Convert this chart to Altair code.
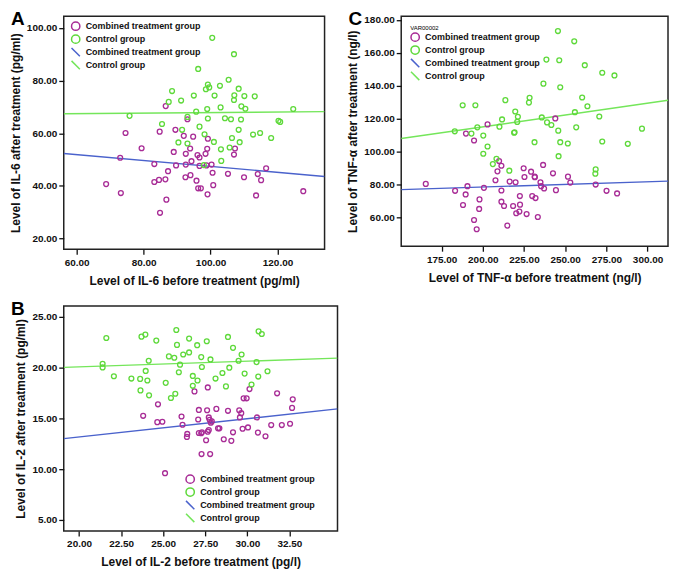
import altair as alt
import pandas as pd

# ---------------- Panel A : IL-6 ----------------
a_comb_x = [86.6, 93.1, 74.6, 84.8, 89.5, 92.0, 94.8, 99.2, 79.4, 93.9, 107.3, 99.0, 89.0, 92.6, 96.1, 98.5, 107.0, 96.7, 73.0, 94.3, 83.2, 92.6, 89.7, 96.7, 100.3, 98.8, 116.6, 87.3, 100.6, 105.2, 114.1, 84.6, 86.5, 83.2, 92.5, 94.0, 110.0, 95.8, 115.1, 100.8, 68.8, 96.3, 97.1, 73.2, 99.1, 113.6, 127.7, 86.8, 84.9]
a_comb_y = [70.3, 65.3, 60.1, 60.6, 61.3, 59.0, 58.7, 57.9, 54.3, 54.2, 54.2, 54.1, 52.9, 52.2, 51.7, 52.2, 51.9, 50.8, 50.7, 49.4, 48.3, 48.1, 47.8, 47.6, 48.1, 47.8, 46.7, 45.6, 45.0, 44.6, 44.5, 42.3, 42.5, 41.5, 43.3, 44.1, 43.3, 42.0, 42.2, 40.3, 40.7, 39.1, 39.1, 37.3, 36.8, 36.4, 38.0, 34.8, 29.8]
a_ctrl_x = [100.5, 107.0, 96.3, 105.4, 99.2, 99.6, 102.8, 98.6, 88.5, 108.4, 107.1, 110.1, 113.2, 101.2, 95.0, 91.2, 87.5, 107.0, 109.2, 110.4, 103.0, 99.0, 95.7, 124.7, 75.8, 93.1, 104.3, 99.2, 106.1, 109.1, 120.3, 120.8, 85.5, 96.7, 91.5, 108.4, 114.8, 98.2, 112.7, 118.1, 106.4, 90.4, 93.1, 101.0, 108.7, 105.7, 103.1, 103.2, 98.0]
a_ctrl_y = [96.2, 90.0, 84.4, 80.3, 78.5, 77.4, 78.0, 76.7, 76.0, 76.9, 74.4, 74.1, 74.0, 74.3, 74.3, 72.4, 71.9, 72.6, 70.2, 69.3, 69.8, 69.2, 68.2, 69.2, 66.6, 66.2, 65.7, 65.6, 65.3, 65.2, 64.7, 64.3, 63.5, 62.5, 61.3, 61.3, 60.1, 59.6, 59.5, 58.2, 58.2, 56.5, 56.1, 56.7, 56.6, 54.6, 53.9, 49.5, 47.9]
a_fit_x = [56.14, 134.06]
a_fit_comb = [52.3, 43.6]
a_fit_ctrl = [67.4, 68.2]

# ---------------- Panel C : TNF-alpha ----------------
c_comb_x = [202.9, 244.0, 189.8, 194.7, 209.9, 211.3, 236.6, 224.8, 242.6, 208.9, 229.3, 231.5, 225.3, 231.6, 251.7, 207.7, 216.3, 219.9, 235.0, 253.1, 165.4, 190.7, 235.4, 237.2, 200.7, 268.5, 183.2, 211.3, 244.4, 275.1, 281.5, 189.6, 222.5, 230.0, 232.0, 198.0, 211.3, 212.9, 218.4, 222.6, 188.0, 197.8, 222.2, 220.3, 226.6, 233.4, 194.7, 214.9, 196.3]
c_comb_y = [116.6, 120.2, 111.0, 106.8, 94.4, 91.5, 92.0, 90.0, 86.9, 88.1, 87.9, 84.9, 84.7, 84.5, 84.9, 82.7, 81.9, 81.5, 81.5, 81.3, 80.5, 79.1, 79.1, 77.7, 78.1, 80.1, 76.3, 76.5, 76.7, 76.3, 74.7, 74.1, 73.1, 73.1, 71.9, 71.1, 69.7, 67.1, 67.1, 67.9, 67.7, 65.3, 63.7, 62.7, 62.2, 60.4, 58.6, 55.2, 53.0]
c_ctrl_x = [245.6, 255.5, 238.6, 246.4, 261.9, 272.5, 279.9, 236.8, 247.0, 260.3, 228.4, 213.7, 228.0, 187.8, 195.5, 263.5, 219.7, 255.9, 235.8, 221.3, 211.7, 270.7, 220.9, 239.0, 241.6, 196.7, 210.1, 256.7, 296.6, 245.8, 183.0, 193.1, 219.3, 219.0, 200.3, 231.4, 247.0, 251.6, 272.5, 288.0, 202.9, 200.3, 208.3, 246.0, 206.1, 216.1, 268.5, 268.3]
c_ctrl_y = [173.2, 167.0, 155.9, 155.5, 152.5, 147.9, 146.3, 141.3, 139.1, 132.9, 132.7, 131.3, 129.8, 128.2, 128.2, 127.6, 124.4, 124.0, 120.8, 121.2, 119.6, 121.4, 118.1, 117.8, 116.2, 114.8, 115.2, 114.8, 114.0, 112.8, 112.4, 111.0, 111.8, 111.5, 109.8, 105.8, 105.8, 105.0, 106.2, 104.8, 103.2, 98.8, 95.7, 97.3, 92.5, 88.5, 89.3, 86.7]
c_fit_x = [150.5, 312.4]
c_fit_comb = [77.0, 82.2]
c_fit_ctrl = [108.0, 131.2]

# ---------------- Panel B : IL-2 ----------------
b_comb_x = [27.65, 26.86, 31.77, 30.13, 29.78, 29.96, 32.70, 24.69, 32.66, 23.81, 27.12, 27.61, 28.16, 28.85, 29.52, 29.64, 26.09, 27.71, 27.76, 27.08, 29.56, 30.57, 24.65, 24.95, 27.83, 27.89, 26.15, 31.42, 32.05, 32.54, 28.26, 28.34, 27.71, 27.12, 30.04, 29.72, 29.15, 26.43, 27.30, 27.65, 30.63, 27.26, 26.41, 31.08, 27.55, 28.60, 29.05, 27.28, 27.79, 25.11]
b_comb_y = [18.03, 17.64, 17.45, 17.87, 16.96, 16.96, 16.86, 16.37, 16.02, 15.24, 15.82, 15.79, 15.92, 15.73, 15.79, 15.50, 15.17, 15.08, 14.85, 14.88, 15.08, 15.08, 14.62, 14.66, 14.56, 14.69, 14.36, 14.33, 14.33, 14.46, 14.01, 14.01, 13.85, 13.55, 14.10, 13.97, 13.62, 13.46, 13.62, 13.68, 13.59, 13.53, 13.17, 13.23, 12.84, 12.94, 12.78, 11.48, 11.48, 9.60]
b_ctrl_x = [25.78, 30.67, 30.86, 23.94, 23.71, 21.62, 28.85, 24.59, 26.54, 27.59, 25.82, 27.02, 29.15, 26.54, 26.19, 25.34, 25.66, 27.26, 29.66, 27.81, 24.14, 29.48, 21.40, 21.40, 26.00, 30.55, 27.30, 28.93, 23.96, 25.93, 28.52, 29.84, 31.20, 22.07, 26.76, 30.65, 23.11, 23.63, 28.11, 24.06, 27.04, 25.15, 30.25, 26.76, 28.73, 23.65, 25.72, 24.16, 25.46]
b_ctrl_y = [23.67, 23.54, 23.28, 23.22, 23.02, 22.89, 22.99, 22.63, 22.83, 22.57, 22.21, 22.18, 21.92, 21.47, 21.27, 21.08, 20.95, 21.01, 21.27, 20.78, 20.65, 20.65, 20.36, 20.00, 20.27, 20.52, 20.04, 19.97, 19.65, 19.52, 19.45, 19.39, 19.62, 19.13, 19.16, 19.10, 18.90, 18.87, 18.90, 18.71, 18.71, 18.48, 18.32, 18.19, 18.13, 17.74, 17.41, 17.25, 16.99]
b_fit_x = [19.09, 35.36]
b_fit_comb = [13.0, 15.92]
b_fit_ctrl = [20.0, 20.91]

# ---------------- styling ----------------
COMB = "Combined treatment group"
CTRL = "Control group"
COMB_L = "Combined treatment group "
CTRL_L = "Control group "
LEG_DOMAIN = [COMB, CTRL, COMB_L, CTRL_L]
MAGENTA = "#a82c96"
GREEN = "#5ed93a"
BLUE = "#4a62cc"
LGREEN = "#74e65a"
DIAG = "M-1,-1L1,1"


def panel(letter, cx, cy, gx, gy, fx, fcomb, fctrl, xdom, ydom, xticks, yticks,
          xtitle, ytitle, w, h, lx, ly, ltitle, rowpad):
    pts = pd.DataFrame({
        "x": cx + gx,
        "y": cy + gy,
        "grp": [COMB] * len(cx) + [CTRL] * len(gx),
    })
    lines = pd.DataFrame({
        "x": fx + fx,
        "y": fcomb + fctrl,
        "grp": [COMB_L] * len(fx) + [CTRL_L] * len(fx),
    })
    xs = alt.Scale(domain=xdom, nice=False, zero=False)
    ys = alt.Scale(domain=ydom, nice=False, zero=False)
    xax = alt.Axis(values=xticks, format=".2f", title=xtitle, labelOverlap=False)
    yax = alt.Axis(values=yticks, format=".2f", title=ytitle, labelOverlap=False)
    xenc = alt.X("x:Q", scale=xs, axis=xax)
    yenc = alt.Y("y:Q", scale=ys, axis=yax)
    leg_kwargs = dict(orient="none", legendX=lx, legendY=ly, rowPadding=rowpad)
    if ltitle:
        leg_kwargs.update(title=ltitle, titlePadding=1)
    else:
        leg_kwargs.update(title=None)
    legend = alt.Legend(**leg_kwargs)
    points = alt.Chart(pts).mark_point(filled=False, size=24, strokeWidth=1.3, opacity=1).encode(
        x=xenc,
        y=yenc,
        color=alt.Color("grp:N", scale=alt.Scale(domain=LEG_DOMAIN, range=[MAGENTA, GREEN, BLUE, LGREEN]), legend=legend),
        shape=alt.Shape("grp:N", scale=alt.Scale(domain=LEG_DOMAIN, range=["circle", "circle", DIAG, DIAG]), legend=legend),
    )
    fit = alt.Chart(lines).mark_line(strokeWidth=1.4, clip=True).encode(
        x=xenc,
        y=yenc,
        stroke=alt.Stroke("grp:N", scale=alt.Scale(domain=[COMB_L, CTRL_L], range=[BLUE, LGREEN]), legend=None),
    )
    lab = alt.Chart(pd.DataFrame({"t": [letter]})).mark_text(
        align="left", baseline="top", fontSize=19, fontWeight="bold", font="Liberation Sans", color="black"
    ).encode(text="t:N", x=alt.value(-53), y=alt.value(-6))
    return alt.layer(fit, points, lab).properties(width=w, height=h)


A = panel("A", a_comb_x, a_comb_y, a_ctrl_x, a_ctrl_y, a_fit_x, a_fit_comb, a_fit_ctrl,
          [56.14, 134.06], [16.0, 104.4], [60, 80, 100, 120], [20, 40, 60, 80, 100],
          "Level of IL-6 before treatment (pg/ml)", "Level of IL-6 after treatment (pg/ml)",
          262, 234, 7, 5, None, -6)
C = panel("C", c_comb_x, c_comb_y, c_ctrl_x, c_ctrl_y, c_fit_x, c_fit_comb, c_fit_ctrl,
          [150.5, 312.4], [42.7, 182.2], [175, 200, 225, 250, 275, 300], [60, 80, 100, 120, 140, 160, 180],
          "Level of TNF-α before treatment (ng/l)", "Level of TNF-α after treatment (ng/l)",
          268, 231, 9, 9, "VAR00002", -7.3)
B = panel("B", b_comb_x, b_comb_y, b_ctrl_x, b_ctrl_y, b_fit_x, b_fit_comb, b_fit_ctrl,
          [19.09, 35.36], [3.93, 26.04], [20, 22.5, 25, 27.5, 30, 32.5], [5, 10, 15, 20, 25],
          "Level of IL-2 before treatment (pg/l)", "Level of IL-2 after treatment (pg/ml)",
          275, 226, 122, 169, None, -6)

top = alt.hconcat(A, C, spacing=20).resolve_scale(
    color="independent", shape="independent", stroke="independent"
).resolve_legend(color="independent", shape="independent", stroke="independent")

chart = alt.vconcat(top, B, spacing=12).resolve_scale(
    color="independent", shape="independent", stroke="independent"
).resolve_legend(
    color="independent", shape="independent", stroke="independent"
).properties(padding=0, background="white").configure_view(
    stroke="#222222", strokeWidth=1.5
).configure_axis(
    grid=False,
    domain=False,
    tickColor="#111111",
    tickWidth=1.3,
    tickSize=5,
    labelFont="Liberation Sans",
    labelFontWeight="bold",
    labelFontSize=10,
    labelColor="#111111",
    titleFont="Liberation Sans",
    titleFontWeight="bold",
    titleFontSize=12,
    titleColor="#111111",
).configure_axisX(
    labelPadding=3, titlePadding=8
).configure_axisY(
    labelPadding=2, titlePadding=4
).configure_legend(
    padding=0,
    labelFont="Liberation Sans",
    labelFontWeight="bold",
    labelFontSize=9,
    labelColor="#111111",
    labelOffset=5,
    symbolSize=70,
    symbolStrokeWidth=1.5,
    titleFont="Liberation Sans",
    titleFontSize=6,
    titleFontWeight="normal",
)

chart.save("out.html", embed_options={"renderer": "svg", "actions": False})
